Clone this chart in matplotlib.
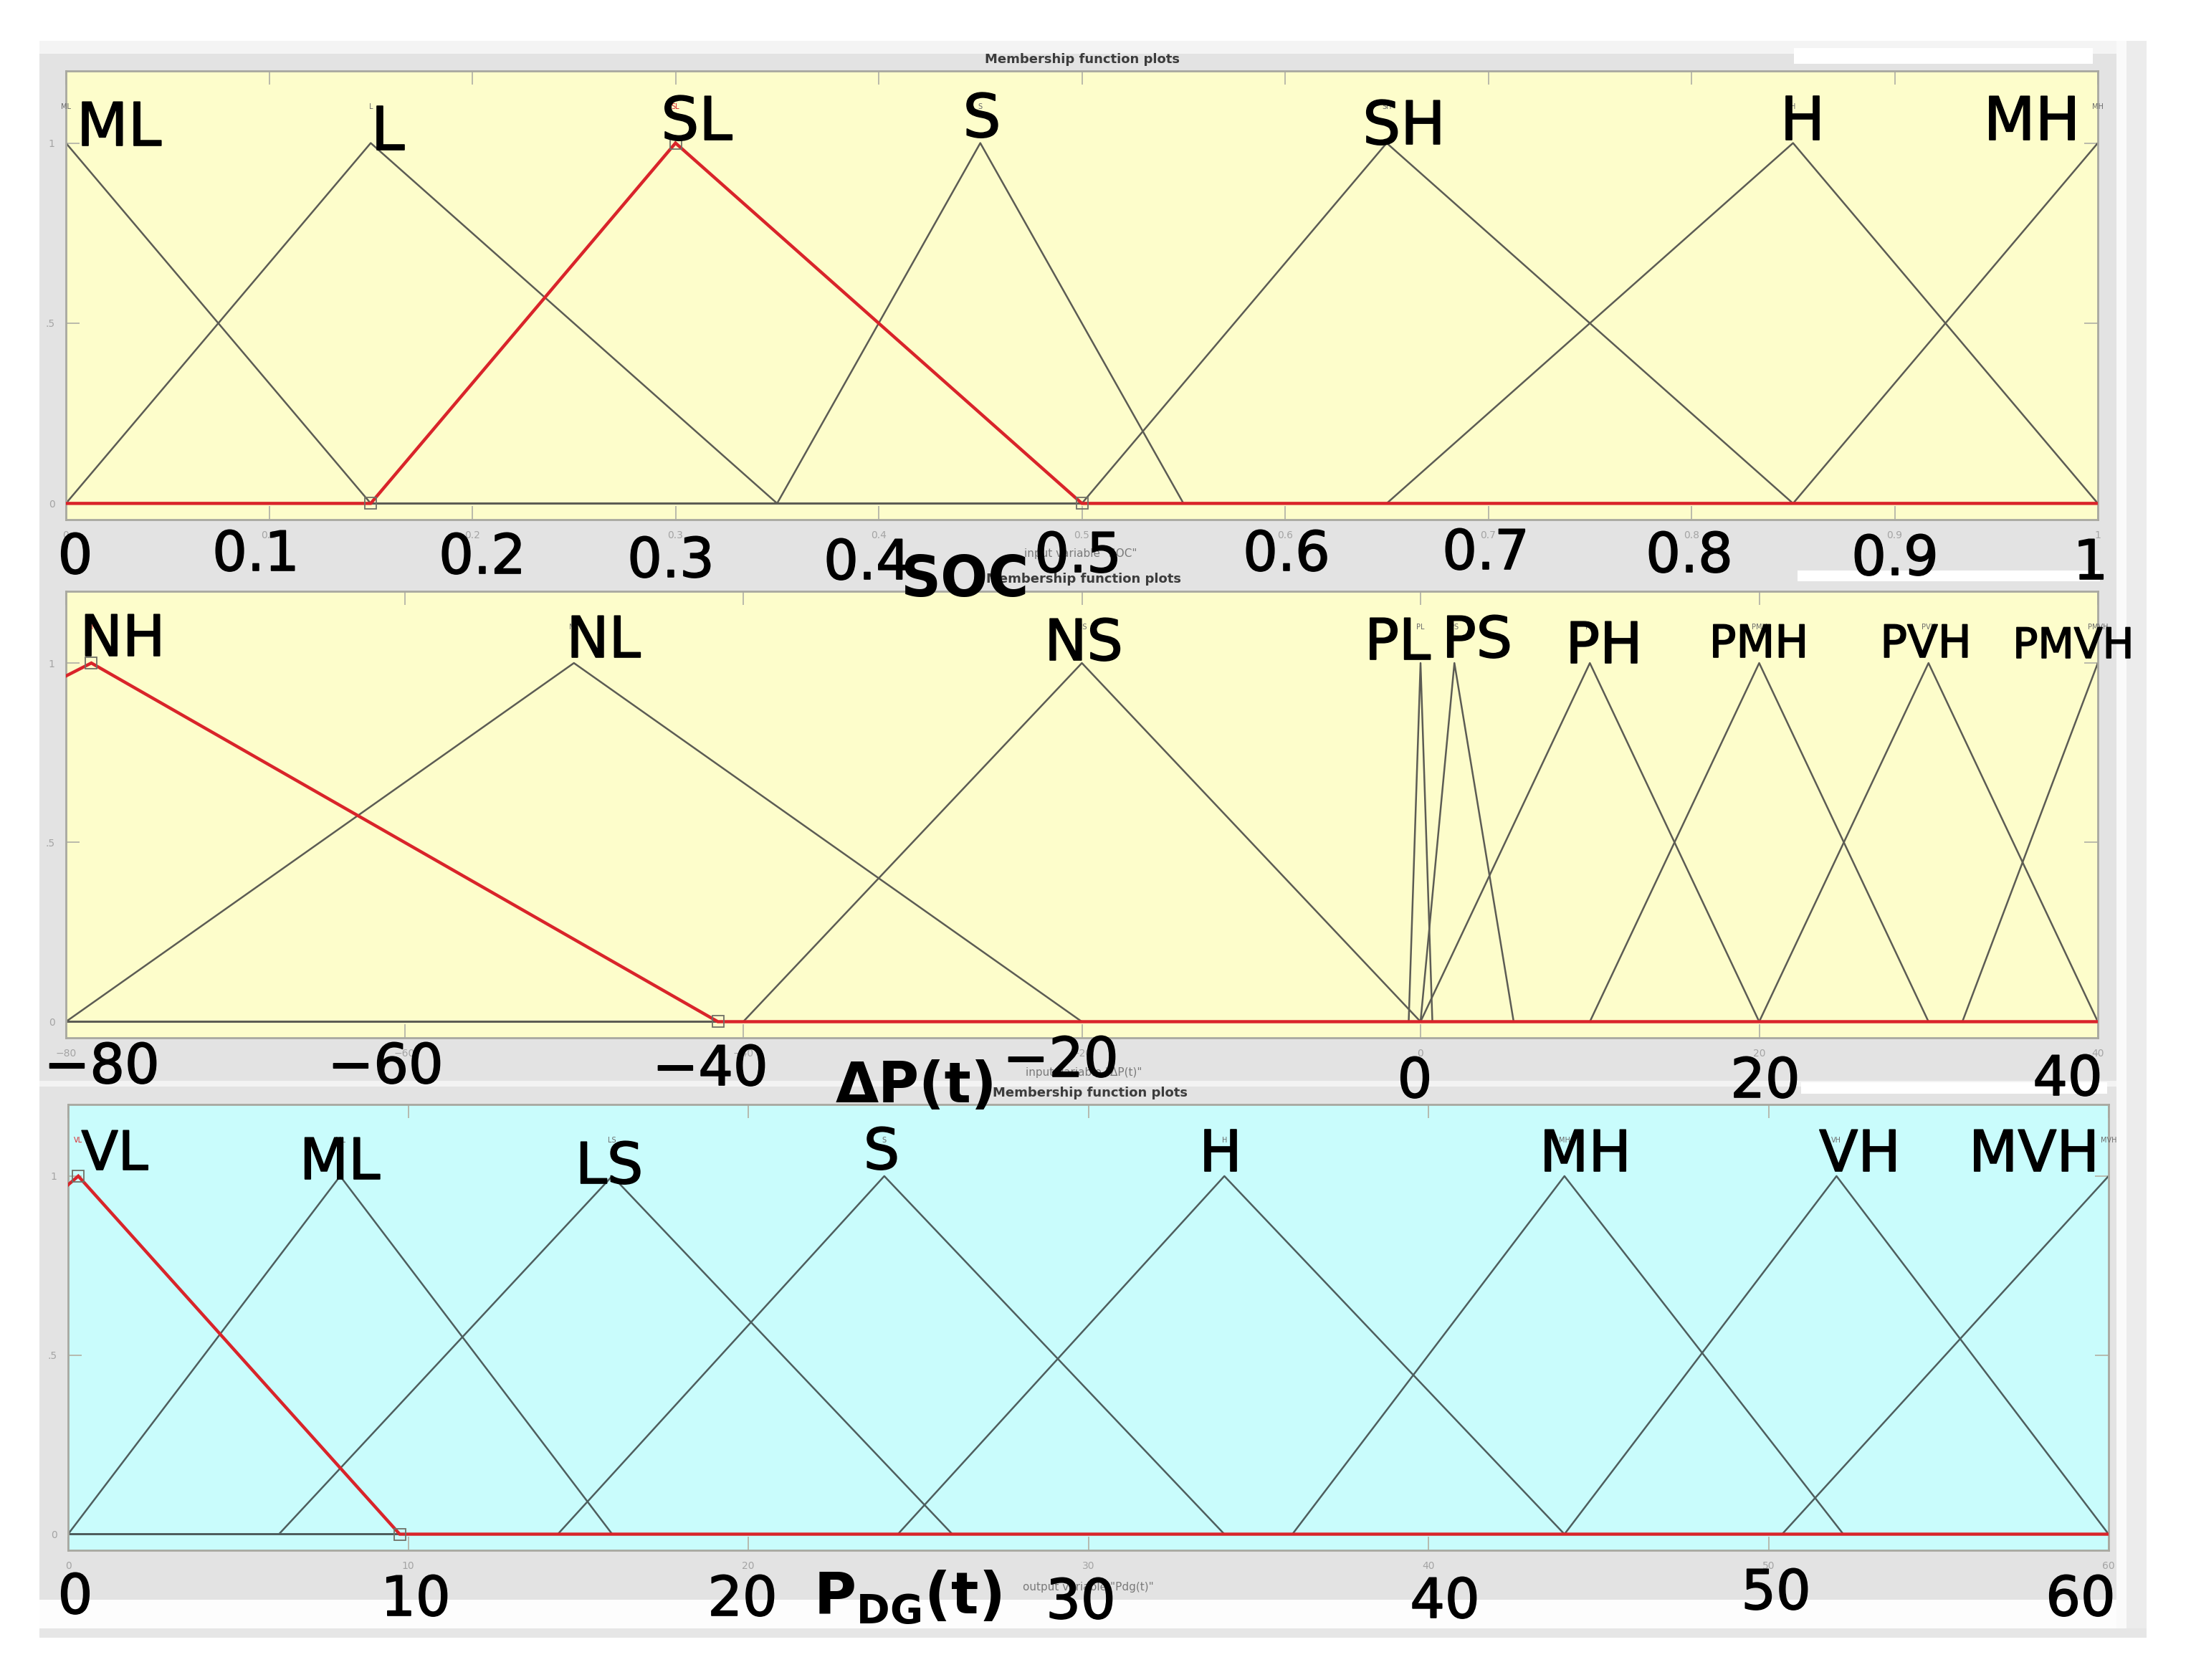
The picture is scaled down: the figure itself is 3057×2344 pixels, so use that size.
import matplotlib

matplotlib.use("Agg")
import matplotlib.pyplot as plt
import matplotlib.patheffects as pe
from matplotlib.patches import Rectangle

W, H = 3057, 2344

# ---- input 1: SOC ----
soc_names = ["ML", "L", "SL", "S", "SH", "H", "MH"]
soc_params = [(-0.15, 0.0, 0.15), (0.0, 0.15, 0.35), (0.15, 0.30, 0.50),
              (0.35, 0.45, 0.55), (0.50, 0.65, 0.85), (0.65, 0.85, 1.0),
              (0.85, 1.0, 1.15)]
soc_active = 2
soc_range = (0.0, 1.0)
soc_ticks = [0, 0.1, 0.2, 0.3, 0.4, 0.5, 0.6, 0.7, 0.8, 0.9, 1]
soc_ticklabels = ["0", "0.1", "0.2", "0.3", "0.4", "0.5", "0.6", "0.7", "0.8", "0.9", "1"]

# ---- input 2: dP(t) ----
dp_names = ["NH", "NL", "NS", "PL", "PS", "PH", "PMH", "PVH", "PMVH"]
dp_params = [(-120, -78.5, -41.5), (-80, -50, -20), (-40, -20, 0),
             (-0.7, 0, 0.7), (0, 2, 5.5), (0, 10, 20), (10, 20, 30),
             (20, 30, 40), (32, 40, 48)]
dp_active = 0
dp_range = (-80, 40)
dp_ticks = [-80, -60, -40, -20, 0, 20, 40]
dp_ticklabels = ["\u221280", "\u221260", "\u221240", "\u221220", "0", "20", "40"]

# ---- output: Pdg(t) ----
pdg_names = ["VL", "ML", "LS", "S", "H", "MH", "VH", "MVH"]
pdg_params = [(-12, 0.3, 9.75), (0, 8, 16), (6.2, 16, 26), (14.4, 24, 34),
              (24.4, 34, 44), (36, 44, 52.2), (44, 52, 60), (50.4, 60, 69.6)]
pdg_active = 0
pdg_range = (0, 60)
pdg_ticks = [0, 10, 20, 30, 40, 50, 60]
pdg_ticklabels = ["0", "10", "20", "30", "40", "50", "60"]

# ---- layout (pixels of the 3057x2344 picture) ----
soc_box = (92, 99, 2927, 725)
dp_box = (92, 825, 2927, 1448)
pdg_box = (95, 1541, 2942, 2163)

soc_name_pos = [(166, 203), (541, 209), (972, 195), (1370, 191), (1959, 201), (2515, 195), (2835, 195)]
soc_name_size = [60] * 7
soc_tick_pos = [(105, 800), (357, 796), (673, 800), (936, 805), (1210, 808), (1504, 798),
                (1795, 796), (2073, 794), (2357, 798), (2644, 802), (2917, 808)]

dp_name_pos = [(171, 915), (842, 917), (1512, 921), (1950, 920), (2061, 917), (2238, 925),
               (2454, 917), (2687, 917), (2893, 918)]
dp_name_size = [57, 57, 57, 57, 57, 57, 45, 45, 42]
dp_tick_pos = [(142, 1511), (538, 1511), (991, 1514), (1480, 1502), (1974, 1531), (2463, 1531), (2885, 1528)]

pdg_name_pos = [(160, 1632), (474, 1645), (850, 1651), (1230, 1631), (1703, 1634), (2212, 1634),
                (2595, 1634), (2838, 1634)]
pdg_name_size = [54, 57, 57, 57, 57, 57, 57, 57]
pdg_tick_pos = [(105, 2251), (580, 2254), (1036, 2254), (1508, 2258), (2016, 2257), (2478, 2245), (2903, 2254)]

RED = "#d9242a"
THICK = [pe.withStroke(linewidth=1.2, foreground="black")]

fig = plt.figure(figsize=(W / 100, H / 100), dpi=100)

# MATLAB window background
bg = fig.add_axes([0, 0, 1, 1], zorder=0)
bg.set_xlim(0, W)
bg.set_ylim(H, 0)
bg.axis("off")
for (x0, y0, x1, y1, col) in [
    (55, 57, 2995, 2285, "#ececec"),
    (55, 57, 2953, 75, "#f4f4f4"),
    (55, 75, 2953, 2232, "#e3e3e3"),
    (2953, 57, 2967, 2285, "#fafafa"),
    (55, 1508, 2953, 1516, "#f3f3f3"),
    (55, 2232, 2953, 2272, "#fdfdfd"),
    (55, 2272, 2995, 2285, "#e6e6e6"),
    (2503, 67, 2920, 89, "#ffffff"),
    (2508, 796, 2930, 811, "#ffffff"),
    (2513, 1510, 2940, 1526, "#ffffff"),
]:
    bg.add_patch(Rectangle((x0, y0), x1 - x0, y1 - y0, facecolor=col, edgecolor="none"))


def draw_panel(box, face, xr, ticks, ticklabels, names, params, active, line_col):
    x0, y0, x1, y1 = box
    ax = fig.add_axes([x0 / W, 1 - y1 / H, (x1 - x0) / W, (y1 - y0) / H], zorder=1)
    ax.set_facecolor(face)
    for (a, b, c) in params:
        ax.plot([min(xr[0], a), a, b, c, max(c, xr[1])], [0, 0, 1, 0, 0],
                color=line_col, lw=1.8, zorder=2)
    a, b, c = params[active]
    ax.plot([min(xr[0], a), a, b, c, max(c, xr[1])], [0, 0, 1, 0, 0],
            color=RED, lw=3.2, zorder=3, solid_joinstyle="miter")
    for px, py in [(a, 0), (b, 1), (c, 0)]:
        if xr[0] <= px <= xr[1]:
            ax.plot(px, py, "s", ms=12, mfc="none", mec="#707066", mew=1.3, zorder=4)
    # MATLAB's own small MF names above peaks
    for i, (name, (a, b, c)) in enumerate(zip(names, params)):
        ax.text(min(max(b, xr[0]), xr[1]), 1.09, name, ha="center", va="bottom",
                fontsize=7, color=RED if i == active else "#6a6a6a", zorder=5)
    ax.set_xlim(xr)
    ax.set_ylim(-0.045, 1.2)
    ax.set_xticks(ticks)
    ax.set_xticklabels(ticklabels)
    ax.set_yticks([0, 0.5, 1])
    ax.set_yticklabels(["0", ".5", "1"])
    ax.tick_params(direction="in", top=True, right=True, length=14, width=1.3,
                   color="#b4b4a8", labelcolor="#a4a4a4", labelsize=10, pad=11)
    for sp in ax.spines.values():
        sp.set_color("#a8a8a0")
        sp.set_linewidth(2)
    return ax


draw_panel(soc_box, "#fdfdcb", soc_range, soc_ticks, soc_ticklabels,
           soc_names, soc_params, soc_active, "#5c5c54")
draw_panel(dp_box, "#fdfdcb", dp_range, dp_ticks, dp_ticklabels,
           dp_names, dp_params, dp_active, "#5c5c54")
draw_panel(pdg_box, "#c9fcfc", pdg_range, pdg_ticks, pdg_ticklabels,
           pdg_names, pdg_params, pdg_active, "#4e5e5e")

# overlay: panel titles, variable captions and the large relabelling
ov = fig.add_axes([0, 0, 1, 1], zorder=3)
ov.set_xlim(0, W)
ov.set_ylim(H, 0)
ov.axis("off")
ov.patch.set_visible(False)

for (x, y) in [(1510, 83), (1512, 808), (1521, 1525)]:
    ov.text(x, y, "Membership function plots", ha="center", va="center",
            fontsize=13, fontweight="bold", color="#3c3c3c")
for (x, y, s) in [(1508, 773, 'input variable "SOC"'),
                  (1512, 1497, 'input variable "\u0394P(t)"'),
                  (1518, 2214, 'output variable "Pdg(t)"')]:
    ov.text(x, y, s, ha="center", va="center", fontsize=11, color="#7a7a7a")

for names, pos, sizes in [(soc_names, soc_name_pos, soc_name_size),
                          (dp_names, dp_name_pos, dp_name_size),
                          (pdg_names, pdg_name_pos, pdg_name_size)]:
    for s, (x, y), fs in zip(names, pos, sizes):
        ov.text(x, y, s, ha="center", va="baseline", fontsize=fs, color="black",
                path_effects=THICK)

for labels, pos in [(soc_ticklabels, soc_tick_pos), (dp_ticklabels, dp_tick_pos),
                    (pdg_ticklabels, pdg_tick_pos)]:
    for s, (x, y) in zip(labels, pos):
        ov.text(x, y, s, ha="center", va="baseline", fontsize=55, color="black",
                path_effects=THICK)

ov.text(1346, 832, "SOC", ha="center", va="baseline", fontsize=56, fontweight="bold")
ov.text(1278, 1538, "\u0394P(t)", ha="center", va="baseline", fontsize=56, fontweight="bold")
ov.text(1266, 2253, r"$\mathbf{P_{DG}(t)}$", ha="center", va="baseline", fontsize=58)

fig.savefig("out.png", dpi=100)
